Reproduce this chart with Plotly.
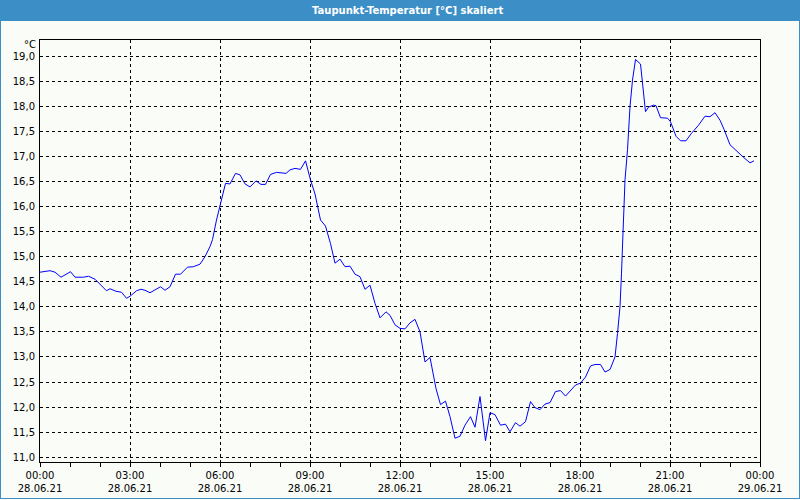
import plotly.graph_objects as go

# ---- data ----
times = ["00:00","00:20","00:30","00:42","01:01","01:10","01:27","01:37","01:50","02:00",
         "02:13","02:20","02:32","02:43","02:53","03:00","03:13","03:22","03:30","03:40",
         "03:50","04:01","04:10","04:20","04:31","04:41","04:55","05:07","05:20","05:30",
         "05:40","05:45","05:53","06:00","06:05","06:11","06:20","06:31","06:40","06:50",
         "07:00","07:12","07:22","07:31","07:41","07:53","08:12","08:20","08:30","08:41",
         "08:51","09:01","09:10","09:21","09:31","09:41","09:50","10:00","10:10","10:20",
         "10:30","10:40","10:50","11:00","11:10","11:20","11:32","11:40","11:50","12:00",
         "12:10","12:20","12:30","12:40","12:50","13:00","13:12","13:21","13:31","13:40",
         "13:50","14:00","14:10","14:21","14:30","14:40","14:51","15:00","15:10","15:21",
         "15:31","15:40","15:51","16:00","16:11","16:21","16:30","16:40","16:50","17:00",
         "17:11","17:21","17:31","17:41","17:51","18:01","18:11","18:21","18:30","18:41",
         "18:50","19:00","19:10","19:15","19:20","19:23","19:27","19:30","19:35","19:40",
         "19:45","19:51","20:01","20:07","20:11","20:17","20:27","20:32","20:41","20:55",
         "21:01","21:12","21:21","21:32","21:43","21:57","22:10","22:20","22:30","22:40",
         "22:48","23:00","23:10","23:27","23:40","23:48"]
dew_point = [14.69,14.72,14.69,14.59,14.70,14.59,14.59,14.61,14.55,14.45,
             14.32,14.36,14.31,14.29,14.17,14.21,14.32,14.35,14.33,14.28,
             14.33,14.40,14.33,14.40,14.65,14.65,14.79,14.80,14.85,15.00,
             15.20,15.34,15.73,16.00,16.23,16.46,16.45,16.66,16.63,16.45,
             16.39,16.51,16.44,16.44,16.64,16.68,16.66,16.73,16.76,16.74,
             16.91,16.53,16.25,15.73,15.61,15.26,14.87,14.95,14.80,14.81,
             14.65,14.60,14.35,14.43,14.07,13.78,13.90,13.83,13.64,13.57,
             13.56,13.68,13.75,13.50,12.90,12.99,12.37,12.05,12.12,11.81,
             11.38,11.42,11.64,11.81,11.60,12.21,11.33,11.89,11.85,11.64,
             11.66,11.51,11.69,11.62,11.71,12.11,11.99,11.95,12.06,12.09,
             12.31,12.33,12.22,12.34,12.44,12.48,12.60,12.82,12.85,12.85,
             12.70,12.75,13.00,13.47,14.00,14.67,15.66,16.53,17.13,17.99,
             18.52,18.93,18.84,18.32,17.89,17.98,18.02,18.01,17.77,17.76,
             17.69,17.40,17.31,17.31,17.46,17.62,17.80,17.79,17.87,17.72,
             17.54,17.23,17.13,16.98,16.87,16.91]

x_tick_hours = [0, 3, 6, 9, 12, 15, 18, 21, 24]
x_tick_labels = ["00:00<br>28.06.21", "03:00<br>28.06.21", "06:00<br>28.06.21",
                 "09:00<br>28.06.21", "12:00<br>28.06.21", "15:00<br>28.06.21",
                 "18:00<br>28.06.21", "21:00<br>28.06.21", "00:00<br>29.06.21"]
y_tick_vals = [11.0, 11.5, 12.0, 12.5, 13.0, 13.5, 14.0, 14.5, 15.0, 15.5,
               16.0, 16.5, 17.0, 17.5, 18.0, 18.5, 19.0]
y_tick_labels = [f"{v:.1f}".replace(".", ",") for v in y_tick_vals]
title_text = "Taupunkt-Temperatur [°C] skaliert"
unit_text = "°C"

hours = [int(t[:2]) + int(t[3:]) / 60 for t in times]

# ---- layout geometry (pixels) ----
W, H = 800, 500
L, R, T, B = 40, 40, 40, 38
PW, PH = W - L - R, H - T - B

def px(xp):
    return (xp - L) / PW

def py(yp):
    return (H - B - yp) / PH

BLUE = "#3b8fc6"
BG = "#fafcf8"
FONT = "DejaVu Sans"

fig = go.Figure()
fig.add_trace(go.Scatter(x=hours, y=dew_point, mode="lines",
                         line=dict(color="#0000ff", width=1), hoverinfo="skip"))

fig.update_layout(
    width=W, height=H,
    margin=dict(l=L, r=R, t=T, b=B, autoexpand=False),
    paper_bgcolor=BG, plot_bgcolor=BG,
    showlegend=False,
    font=dict(family=FONT, size=10, color="#000000"),
    xaxis=dict(range=[0, 24], tickvals=x_tick_hours, ticktext=x_tick_labels,
               showgrid=True, gridcolor="#000000", gridwidth=1, griddash="3px,3px",
               zeroline=False, showline=True, linecolor="#000000", linewidth=1,
               mirror=True, ticks="outside", ticklen=4, tickcolor="#000000",
               minor=dict(dtick=1, tick0=0, ticks="outside", ticklen=4,
                          tickcolor="#000000", showgrid=False),
               tickfont=dict(family=FONT, size=10), fixedrange=True,
               automargin=False),
    yaxis=dict(range=[10.906, 19.319], tickvals=y_tick_vals, ticktext=y_tick_labels,
               showgrid=True, gridcolor="#000000", gridwidth=1, griddash="3px,3px",
               zeroline=False, showline=True, linecolor="#000000", linewidth=1,
               mirror=True, ticks="", ticklabelstandoff=2,
               tickfont=dict(family=FONT, size=10), fixedrange=True,
               automargin=False),
    shapes=[
        dict(type="rect", xref="paper", yref="paper",
             x0=px(0), x1=px(800), y0=py(21), y1=py(0),
             fillcolor=BLUE, line=dict(width=0), layer="below"),
        dict(type="line", xref="paper", yref="paper",
             x0=px(0.5), x1=px(0.5), y0=py(21), y1=py(499),
             line=dict(color=BLUE, width=1)),
        dict(type="line", xref="paper", yref="paper",
             x0=px(799.5), x1=px(799.5), y0=py(21), y1=py(499),
             line=dict(color=BLUE, width=1)),
        dict(type="line", xref="paper", yref="paper",
             x0=px(0), x1=px(800), y0=py(498.5), y1=py(498.5),
             line=dict(color=BLUE, width=1)),
    ],
    annotations=[
        dict(text=f"<b>{title_text}</b>", xref="paper", yref="paper",
             x=px(407), y=py(10.5), xanchor="center", yanchor="middle",
             showarrow=False, font=dict(family=FONT, size=10, color="#ffffff")),
        dict(text=unit_text, xref="paper", yref="paper",
             x=px(38), y=py(45), xanchor="right", yanchor="middle",
             showarrow=False, font=dict(family=FONT, size=10, color="#000000")),
    ],
)

fig.write_html("out.html", config={"displayModeBar": False})
